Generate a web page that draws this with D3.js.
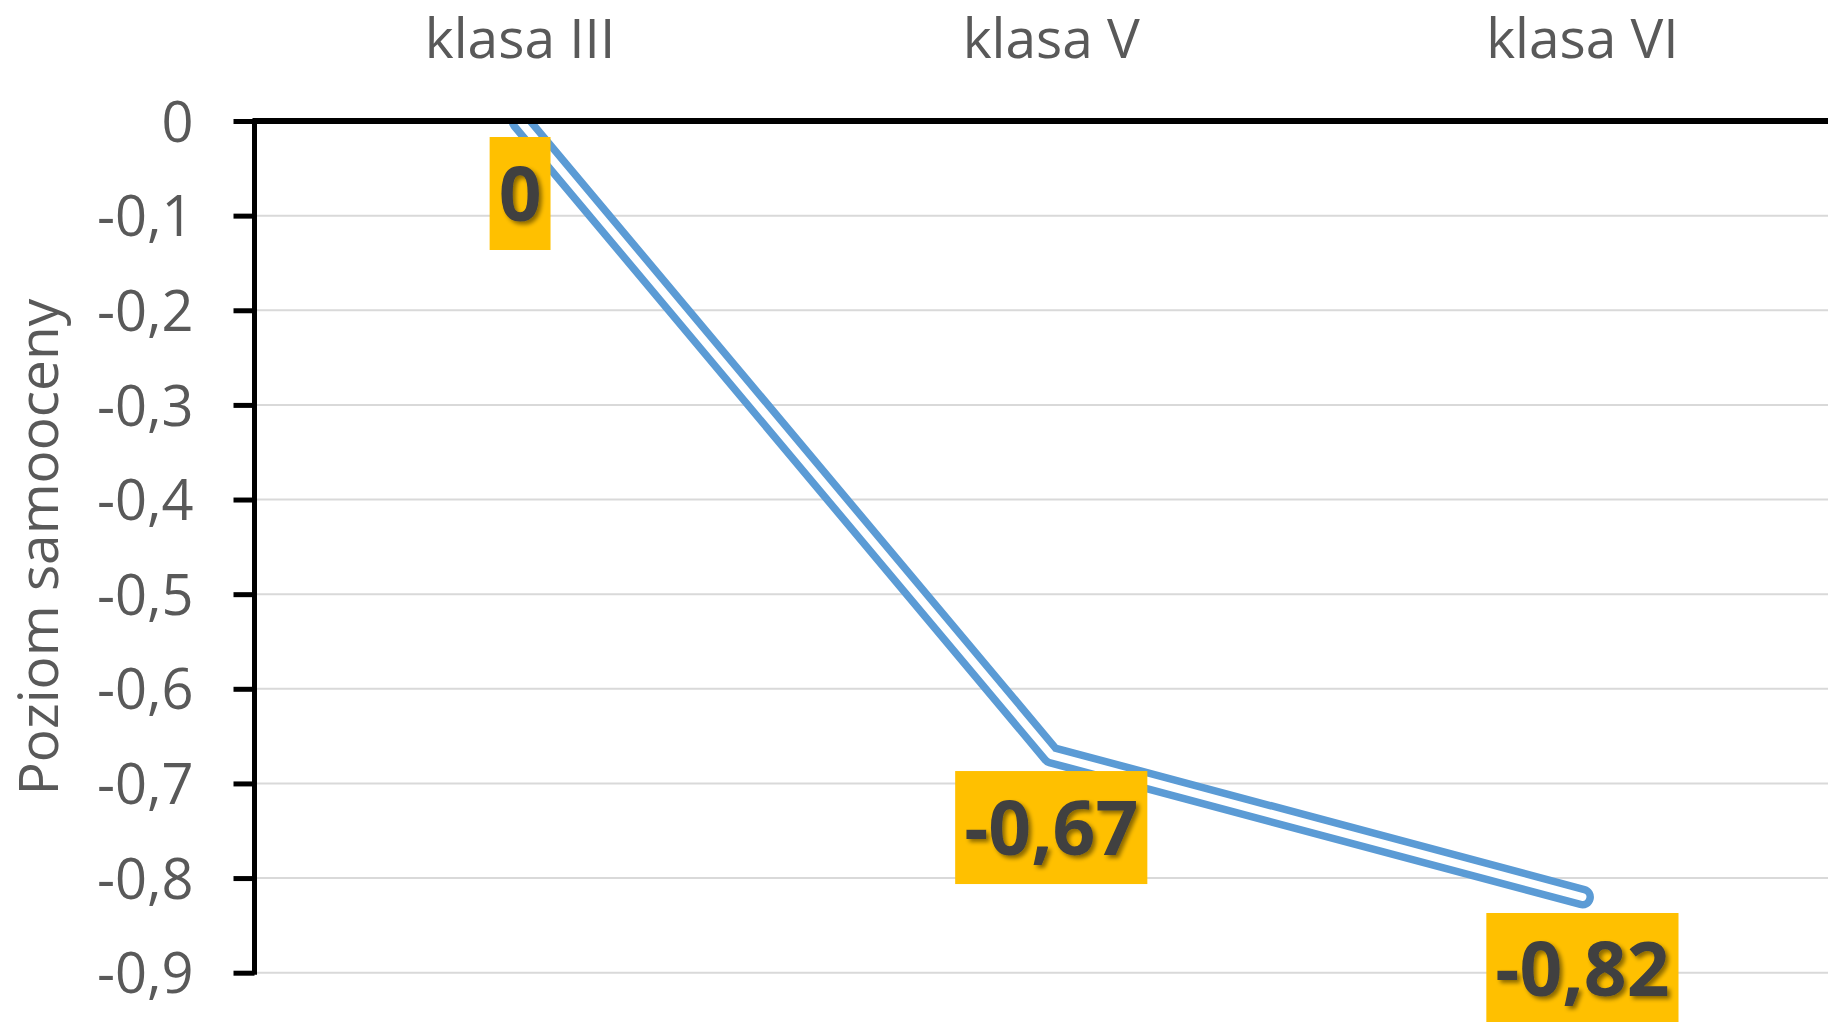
<!DOCTYPE html>
<html><head><meta charset="utf-8">
<script src="https://cdn.jsdelivr.net/npm/d3@7"></script>
<style>html,body{margin:0;padding:0;background:#fff;overflow:hidden}</style>
</head><body>
<svg id="chart" width="1828" height="1022"></svg>
<script>
const categories = ["klasa III", "klasa V", "klasa VI"];
const values = [0, -0.67, -0.82];
const valueLabels = ["0", "-0,67", "-0,82"];
const yTicks = [0, -0.1, -0.2, -0.3, -0.4, -0.5, -0.6, -0.7, -0.8, -0.9];
const yTitle = "Poziom samooceny";

(function () {
const svg = d3.select("#chart");
const W = 1828, H = 1022;
const pLeft = 254.5, pRight = 1848, pTop = 121, pBottom = 972.7;

const x = d3.scaleBand().domain(categories).range([pLeft, pRight]).padding(0);
const y = d3.scaleLinear().domain([-0.9, 0]).range([pBottom, pTop]);
const fmt = d => d === 0 ? "0" : d3.format(".1f")(d).replace("\u2212", "-").replace(".", ",");

const defs = svg.append("defs");
defs.append("clipPath").attr("id", "plotclip").append("rect")
  .attr("x", pLeft).attr("y", pTop).attr("width", W - pLeft).attr("height", pBottom - pTop + 200);
const f = defs.append("filter").attr("id", "shadow").attr("x", "-20%").attr("y", "-20%").attr("width", "150%").attr("height", "150%");
f.append("feDropShadow").attr("dx", 3).attr("dy", 3).attr("stdDeviation", 2)
  .attr("flood-color", "#000").attr("flood-opacity", 0.45);

// gridlines
svg.append("g").selectAll("line").data(yTicks.filter(d => d !== 0)).join("line")
  .attr("x1", pLeft).attr("x2", W).attr("y1", d => y(d)).attr("y2", d => y(d))
  .attr("stroke", "#d9d9d9").attr("stroke-width", 2);

// y axis
const yAxis = svg.append("g").attr("transform", `translate(${pLeft},0)`)
  .call(d3.axisLeft(y).tickValues(yTicks).tickFormat(fmt).tickSize(21).tickPadding(40));
yAxis.select(".domain").attr("stroke", "#000").attr("stroke-width", 5)
  .attr("d", `M0,${pTop}V${pBottom + 2}`);
yAxis.selectAll(".tick line").attr("stroke", "#000").attr("stroke-width", 5);
yAxis.selectAll(".tick text").attr("fill", "#595959")
  .style("font-family", "'Open Sans', sans-serif").style("font-size", "56px")
  .attr("dy", "0.36em").attr("x", -61);

// line (compound double)
const line = d3.line().x((d, i) => x(categories[i]) + x.bandwidth() / 2).y(d => y(d));
const lg = svg.append("g").attr("clip-path", "url(#plotclip)");
lg.append("path").attr("d", line(values)).attr("fill", "none")
  .attr("stroke", "#5b9bd5").attr("stroke-width", 23)
  .attr("stroke-linejoin", "round").attr("stroke-linecap", "round");
lg.append("path").attr("d", line(values)).attr("fill", "none")
  .attr("stroke", "#fff").attr("stroke-width", 8)
  .attr("stroke-linejoin", "round").attr("stroke-linecap", "round");

// top x axis
const xAxis = svg.append("g").attr("transform", `translate(0,${pTop})`)
  .call(d3.axisTop(x).tickSize(0).tickPadding(63));
xAxis.select(".domain").attr("stroke", "#000").attr("stroke-width", 6)
  .attr("d", `M${pLeft - 2},0H${W}`);
xAxis.selectAll(".tick text").attr("fill", "#595959")
  .style("font-family", "'Open Sans', sans-serif").style("font-size", "55px");

// data labels
const labelG = svg.append("g");
const lab = labelG.selectAll("g").data(values).join("g")
  .attr("transform", (d, i) => `translate(${x(categories[i]) + x.bandwidth() / 2},${y(d) + 16})`);
lab.each(function (d, i) {
  const g = d3.select(this);
  const t = g.append("text").text(valueLabels[i])
    .attr("text-anchor", "middle").attr("y", 56.5).attr("dy", "0.36em")
    .style("font-family", "'Open Sans', sans-serif").style("font-weight", "700")
    .style("font-size", "75px").attr("fill", "#404040").attr("filter", "url(#shadow)");
  const bb = t.node().getBBox();
  g.insert("rect", "text").attr("x", -bb.width / 2 - 9).attr("y", 0)
    .attr("width", bb.width + 18).attr("height", 113).attr("fill", "#ffc000");
});

// y title
svg.append("text").text(yTitle)
  .attr("transform", `translate(58,547) rotate(-90)`)
  .attr("text-anchor", "middle").attr("fill", "#595959")
  .style("font-family", "'Open Sans', sans-serif").style("font-size", "55px");
})();
</script>
</body></html>
